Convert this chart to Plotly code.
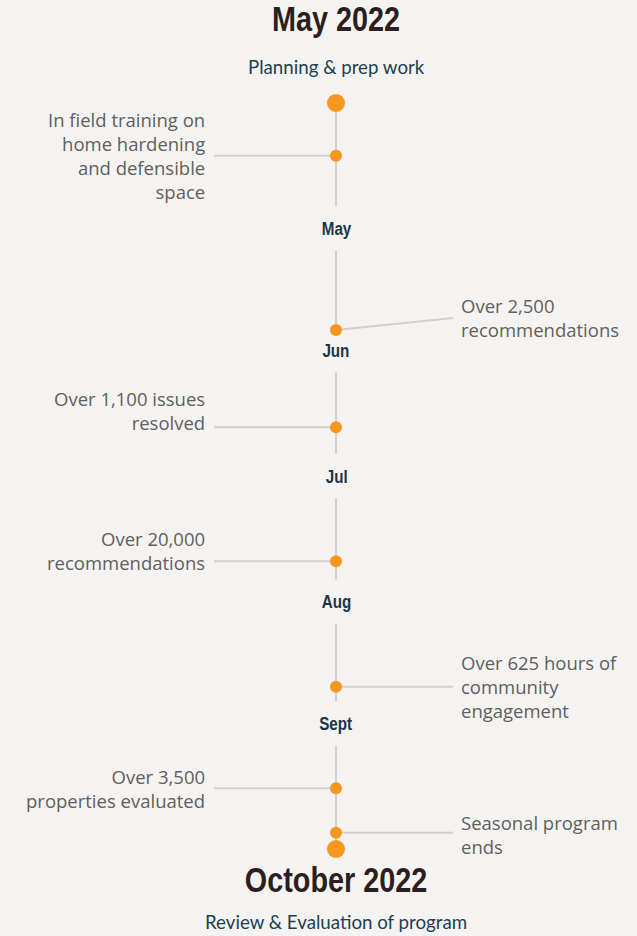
import json
import pandas as pd
import plotly.graph_objects as go

# ---------------- data ----------------
season_start = "2022-05-01"
season_end = "2022-11-01"
start_title = "May 2022"
start_subtitle = "Planning & prep work"
end_title = "October 2022"
end_subtitle = "Review & Evaluation of program"

month_labels = ["May", "Jun", "Jul", "Aug", "Sept"]
month_label_dates = ["2022-06-01", "2022-07-01", "2022-08-01", "2022-09-01", "2022-10-01"]

event_dates = ["2022-05-14", "2022-06-26", "2022-07-20", "2022-08-22",
               "2022-09-22", "2022-10-17", "2022-10-28"]
event_texts = [
    "In field training on<br>home hardening<br>and defensible<br>space",
    "Over 2,500<br>recommendations",
    "Over 1,100 issues<br>resolved",
    "Over 20,000<br>recommendations",
    "Over 625 hours of<br>community<br>engagement",
    "Over 3,500<br>properties evaluated",
    "Seasonal program<br>ends",
]
event_sides = ["left", "right", "left", "left", "right", "left", "right"]

# ---------------- styling ----------------
W, H = 637, 936
BG = "#f5f3f1"
ORANGE = "#f7961f"
LINE = "#d2d0ce"
CX = 336                 # x position of timeline
LEFT_TEXT_X, LEFT_LINE_X = 207, 214
RIGHT_TEXT_X, RIGHT_LINE_X = 459, 453
TOP_PX, BOT_PX = 103, 849
text_yshift = [0, 13, 17, 11, 0, 0, -2]
line_yshift = [0, 12, 0, 0, 0, 0, 0]
NARROW_SCALE = 0.8

t0 = pd.Timestamp(season_start)
t1 = pd.Timestamp(season_end)
days = (t1 - t0) / pd.Timedelta(days=1)
ppd = (BOT_PX - TOP_PX) / days
range_top = t0 - pd.Timedelta(days=TOP_PX / ppd)
range_bot = t0 + pd.Timedelta(days=(H - TOP_PX) / ppd)
gap = pd.Timedelta(days=22 / ppd)

fig = go.Figure()

# vertical timeline, broken around month labels
bounds = [t0] + [pd.Timestamp(d) for d in month_label_dates] + [t1]
ys, xs = [], []
for i in range(len(bounds) - 1):
    a = bounds[i] + (gap if i > 0 else pd.Timedelta(0))
    b = bounds[i + 1] - (gap if i + 1 < len(bounds) - 1 else pd.Timedelta(0))
    ys += [a, b, None]
    xs += [CX, CX, None]
fig.add_trace(go.Scatter(x=xs, y=ys, mode="lines",
                         line=dict(color=LINE, width=2), hoverinfo="skip"))

# connectors
for d, side, ls in zip(event_dates, event_sides, line_yshift):
    x1 = LEFT_LINE_X if side == "left" else RIGHT_LINE_X
    fig.add_shape(type="line", xref="x", yref="y", ysizemode="pixel",
                  yanchor=d, x0=CX, x1=x1, y0=0, y1=ls,
                  line=dict(color=LINE, width=2), layer="below")

# endpoints
fig.add_trace(go.Scatter(x=[CX, CX], y=[season_start, season_end], mode="markers",
                         marker=dict(color=ORANGE, size=18), hoverinfo="skip"))
# events
fig.add_trace(go.Scatter(x=[CX] * len(event_dates), y=event_dates, mode="markers",
                         marker=dict(color=ORANGE, size=12), hoverinfo="skip"))

body_font = dict(family="Open Sans, sans-serif", size=18.5, color="#5f5f5f")
for d, txt, side, ys_ in zip(event_dates, event_texts, event_sides, text_yshift):
    if side == "left":
        fig.add_annotation(x=LEFT_TEXT_X, y=d, text=txt, showarrow=False,
                           xanchor="right", align="right", yshift=ys_, font=body_font)
    else:
        fig.add_annotation(x=RIGHT_TEXT_X, y=d, text=txt, showarrow=False,
                           xanchor="left", align="left", yshift=ys_, font=body_font)

month_font = dict(family="Liberation Sans, Arial, sans-serif",
                  size=19, color="#1b3547", weight=700)
for lab, d in zip(month_labels, month_label_dates):
    fig.add_annotation(x=CX, y=d, text=lab, showarrow=False, font=month_font)

title_font = dict(family="Liberation Sans, Arial, sans-serif",
                  size=36, color="#2d1e1e", weight=700)
sub_font = dict(family="Lato, sans-serif", size=18.7, color="#213f52")
fig.add_annotation(x=CX, y=season_start, text=start_title, showarrow=False,
                   yshift=85, font=title_font)
fig.add_annotation(x=CX, y=season_start, text=start_subtitle, showarrow=False,
                   yshift=36, font=sub_font)
fig.add_annotation(x=CX, y=season_end, text=end_title, showarrow=False,
                   yshift=-30, font=title_font)
fig.add_annotation(x=CX, y=season_end, text=end_subtitle, showarrow=False,
                   yshift=-73, font=sub_font)

fig.update_layout(
    width=W, height=H, margin=dict(l=0, r=0, t=0, b=0),
    paper_bgcolor=BG, plot_bgcolor=BG, showlegend=False,
    xaxis=dict(range=[0, W], visible=False, fixedrange=True),
    yaxis=dict(type="date", range=[range_bot, range_top], visible=False, fixedrange=True),
)

narrow_texts = json.dumps([start_title, end_title] + month_labels)
post = """
document.body.style.margin = '0';
document.body.style.background = '%s';
(function(){
  var names = %s;
  var gd = document.getElementById('{plot_id}');
  gd.querySelectorAll('text.annotation-text').forEach(function(t){
    if (names.indexOf(t.textContent) >= 0) {
      var b = t.getBBox();
      var cx = b.x + b.width / 2;
      t.setAttribute('transform', 'translate(' + cx + ',0) scale(%s,1) translate(' + (-cx) + ',0)');
    }
  });
})();
""" % (BG, narrow_texts, NARROW_SCALE)

fig.write_html("out.html", config={"displayModeBar": False}, post_script=post)
